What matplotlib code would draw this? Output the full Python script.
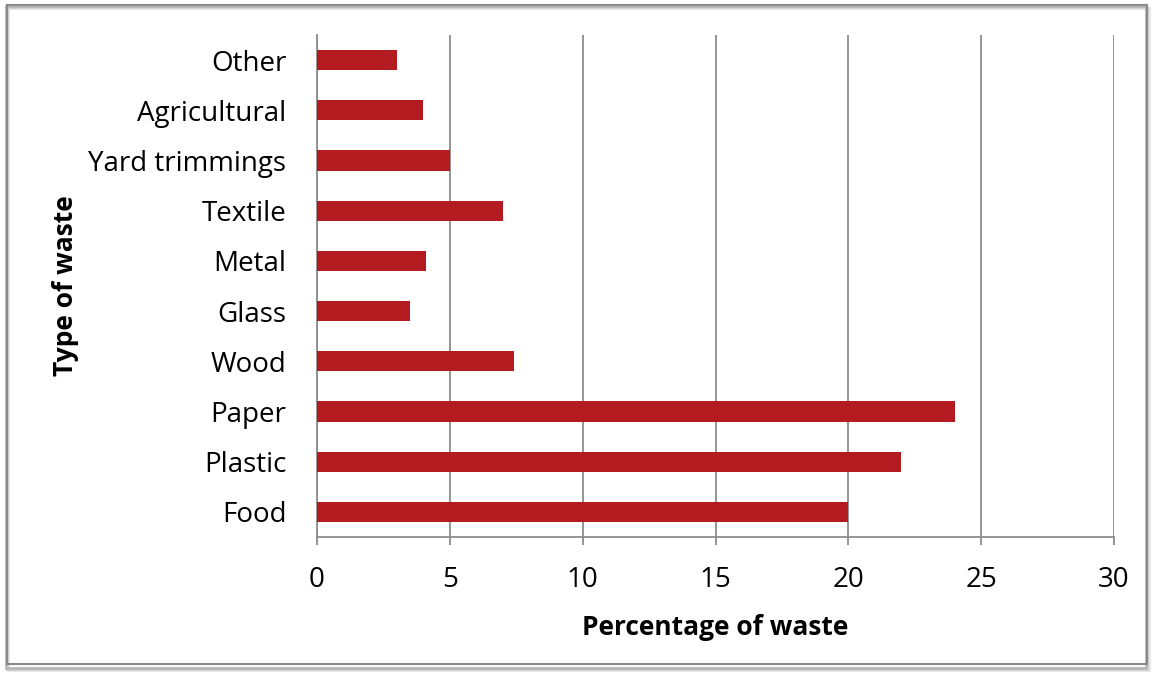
import matplotlib.pyplot as plt
from matplotlib.patches import Rectangle

# waste composition data
categories = ["Food", "Plastic", "Paper", "Wood", "Glass", "Metal",
              "Textile", "Yard trimmings", "Agricultural", "Other"]
percentages = [20, 22, 24, 7.4, 3.5, 4.1, 7, 5, 4, 3]
x_ticks = [0, 5, 10, 15, 20, 25, 30]

plt.rcParams['font.family'] = ['Open Sans', 'DejaVu Sans']

fig = plt.figure(figsize=(11.52, 6.75), dpi=100)
ax = fig.add_axes([0.2752, 0.2044, 0.6918, 0.7437])

ax.barh(categories, percentages, height=0.4, color="#B31B21", zorder=3)

ax.set_xlim(0, 30)
ax.set_ylim(-0.5, len(categories) - 0.5)
ax.set_xticks(x_ticks)
ax.grid(axis='x', color='#8c8c8c', linewidth=1.3, zorder=0)

for side in ['top', 'right']:
    ax.spines[side].set_visible(False)
for side in ['left', 'bottom']:
    ax.spines[side].set_color('#8c8c8c')
    ax.spines[side].set_linewidth(1.3)

ax.tick_params(axis='x', length=6, width=1.3, color='#8c8c8c',
               labelsize=20, pad=15)
ax.tick_params(axis='y', length=0, labelsize=20, pad=22)

ax.set_xlabel("Percentage of waste", fontsize=19, fontweight='bold', labelpad=14)
ax.set_ylabel("Type of waste", fontsize=19, fontweight='bold', labelpad=7)

# chart frame with a soft shadow on the left and bottom
for i, c in enumerate(['#e6e6e6', '#d0d0d0', '#b8b8b8']):
    fig.patches.append(Rectangle((0.004 + 0.001 * (3 - i), 0.012 - 0.0015 * (3 - i)),
                                 0.99, 0.98, transform=fig.transFigure,
                                 fill=False, edgecolor=c, linewidth=2, zorder=0))
fig.patches.append(Rectangle((0.0065, 0.016), 0.989, 0.976, transform=fig.transFigure,
                             fill=False, edgecolor='#8a8a8a', linewidth=1.5, zorder=1))

fig.savefig("out.png", dpi=100)
